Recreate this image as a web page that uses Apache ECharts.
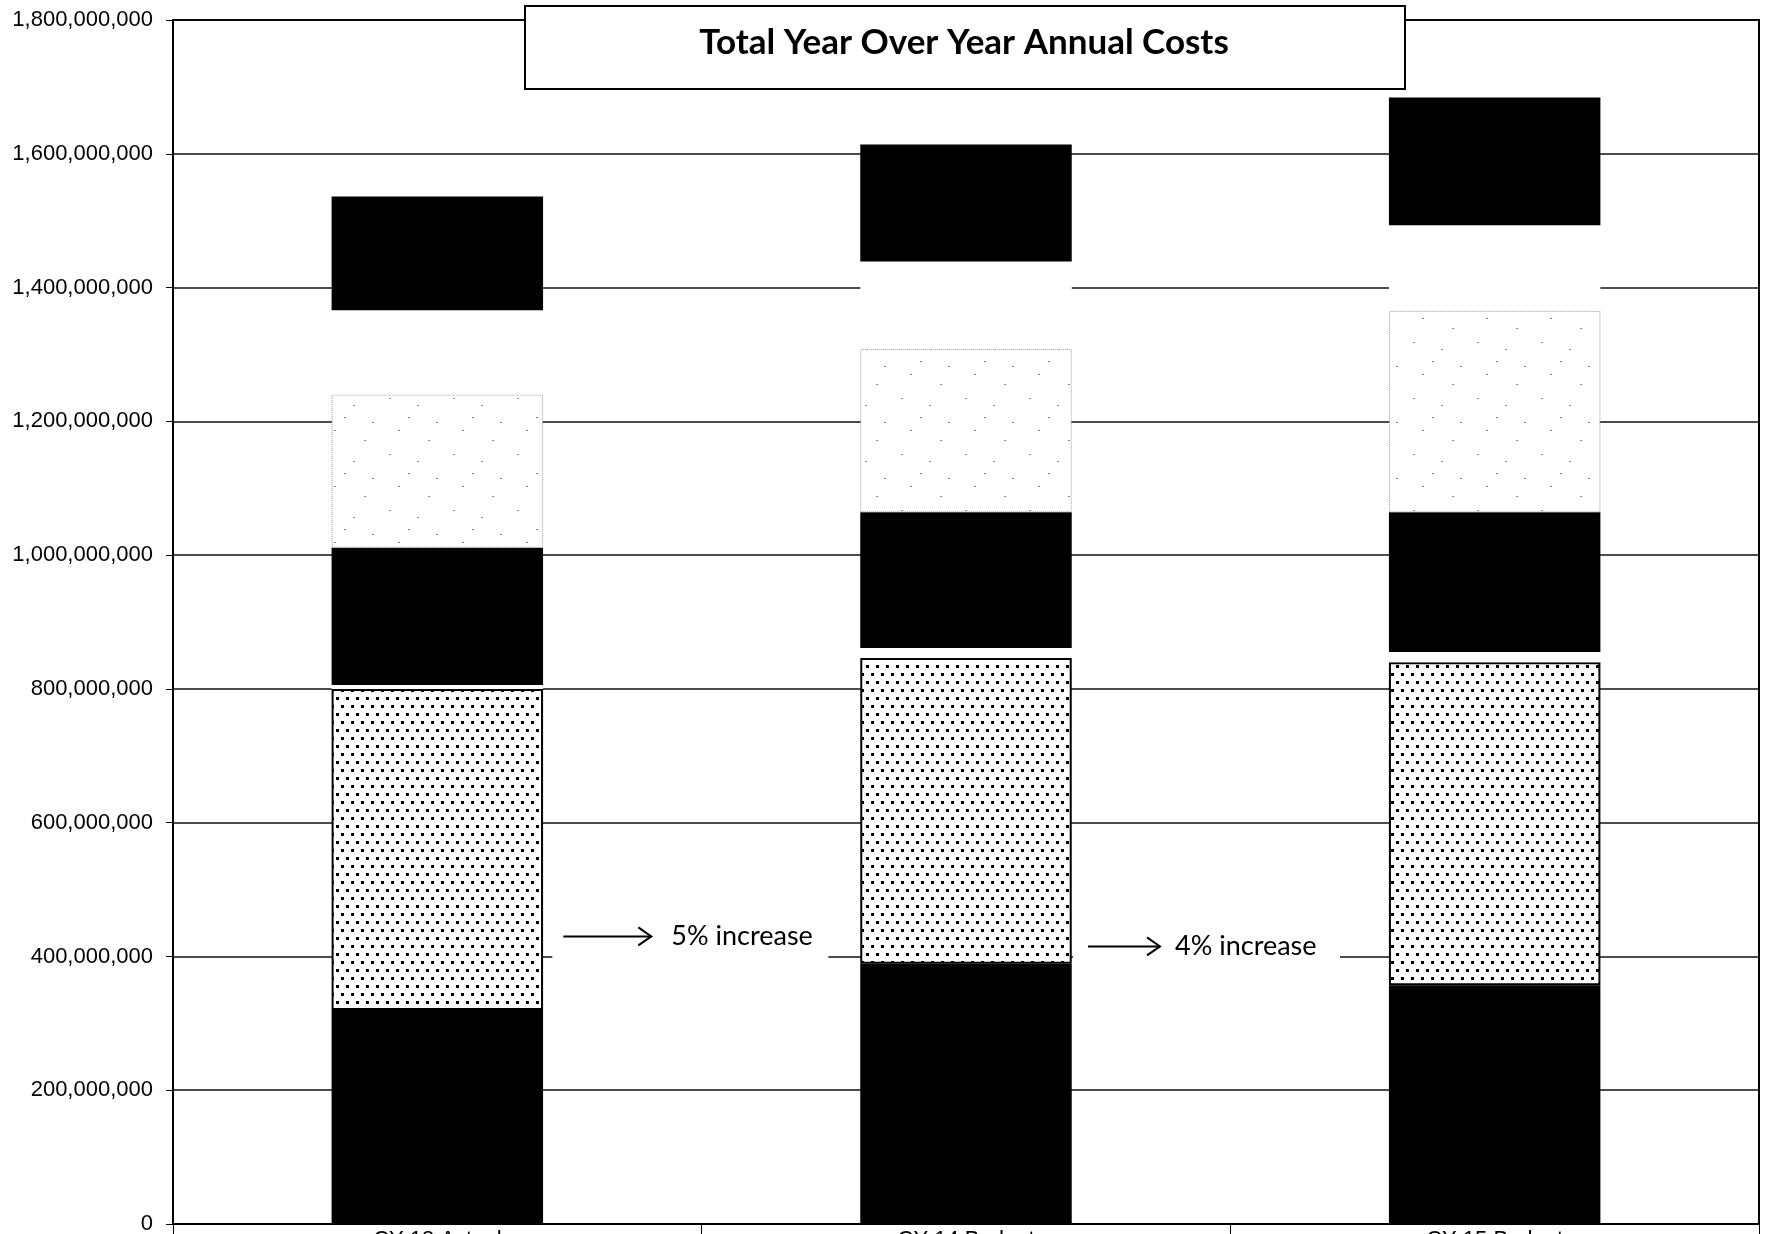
<!DOCTYPE html>
<html><head><meta charset="utf-8">
<script src="https://cdn.jsdelivr.net/npm/echarts@6/dist/echarts.min.js"></script>
<style>html,body{margin:0;padding:0;background:#fff}#c{width:1766px;height:1234px}</style>
</head><body><div id="c"></div>
<script>
// ---- data ----
const categories = ['CY 13 Actual', 'CY 14 Budget', 'CY 15 Budget'];
const baseCost   = [320e6, 389e6, 357e6];   // solid black bottom
const dottedCost = [480e6, 457e6, 483e6];   // dotted segment
const thinGap    = [6e6, 15e6, 15e6];       // thin white gap
const midCost    = [205e6, 203e6, 209e6];   // black middle segment
const lightCost  = [229e6, 244e6, 301e6];   // light speckled segment
const whiteGap   = [126e6, 131e6, 128e6];   // white segment
const topCost    = [170e6, 175e6, 191e6];   // black top segment
const yMin = 0, yMax = 1800e6, yStep = 200e6;
const titleText = 'Total Year Over Year Annual Costs';
const annotations = [
  { cat: 0, value: 430e6, text: '5% increase' },
  { cat: 1, value: 415e6, text: '4% increase' }
];

// ---- patterns ----
function dotPattern() {
  const c = document.createElement('canvas'); c.width = 20; c.height = 16;
  const g = c.getContext('2d');
  g.fillStyle = '#fff'; g.fillRect(0, 0, 20, 16);
  g.fillStyle = '#000';
  [[1,1],[11,1],[6,9],[16,9]].forEach(p => g.fillRect(p[0], p[1], 3, 3));
  return c;
}
function speckPattern() {
  const c = document.createElement('canvas'); c.width = 64; c.height = 56;
  const g = c.getContext('2d');
  g.fillStyle = '#fff'; g.fillRect(0, 0, 64, 56);
  g.fillStyle = '#888';
  [[5,6],[33,13],[52,30],[14,38],[44,48],[24,25]].forEach(p => g.fillRect(p[0], p[1], 2, 1));
  return c;
}
const dotFill = { image: dotPattern(), repeat: 'repeat' };
const speckFill = { image: speckPattern(), repeat: 'repeat' };

const chart = echarts.init(document.getElementById('c'), null, { renderer: 'canvas' });
function seg(name, data, itemStyle) {
  return { name, type: 'bar', stack: 'total', barWidth: '40%', data, itemStyle,
           silent: true, emphasis: { disabled: true }, animation: false };
}
const axisFont = { fontFamily: 'Liberation Sans, Arial, sans-serif', fontSize: 22, color: '#000' };

chart.setOption({
  animation: false,
  backgroundColor: '#fff',
  title: {
    text: titleText, left: 959, top: 20, textAlign: 'center', z: 20,
    textStyle: { fontFamily: 'Lato, sans-serif', fontWeight: 'bold', fontSize: 35, color: '#000' }
  },
  grid: { left: 173, right: 7, top: 20, bottom: 10, containLabel: false, outerBoundsMode: 'none',
          show: true, borderColor: '#000', borderWidth: 2, backgroundColor: 'transparent' },
  xAxis: {
    type: 'category', data: categories,
    axisLine: { lineStyle: { color: '#000', width: 2 } },
    axisTick: { show: true, length: 14, lineStyle: { color: '#000', width: 1 } },
    axisLabel: Object.assign({ margin: 5 }, axisFont),
    splitLine: { show: false }
  },
  yAxis: {
    type: 'value', min: yMin, max: yMax, interval: yStep,
    axisLine: { show: true, lineStyle: { color: '#000', width: 2 } },
    axisTick: { show: true, length: 7, lineStyle: { color: '#000', width: 1 } },
    axisLabel: Object.assign({ margin: 20, formatter: v => v.toLocaleString('en-US') }, axisFont),
    splitLine: { show: true, lineStyle: { color: '#111', width: 1.6 } }
  },
  series: [
    seg('Base', baseCost, { color: '#000' }),
    seg('Dotted', dottedCost, { color: dotFill, borderColor: '#000', borderWidth: 2 }),
    seg('Gap A', thinGap, { color: '#fff' }),
    seg('Middle', midCost, { color: '#000' }),
    seg('Light', lightCost, { color: speckFill, borderColor: '#999', borderWidth: 1, borderType: 'dotted' }),
    seg('Gap B', whiteGap, { color: '#fff' }),
    seg('Top', topCost, { color: '#000' })
  ]
});

// ---- annotations & title box ----
const g = [{
  type: 'rect', z: 10,
  shape: { x: 525, y: 6, width: 880, height: 83 },
  style: { fill: '#fff', stroke: '#000', lineWidth: 2 }
}];
const offs = [
  { box: [115, 391], a0: 126, a1: 214, t: 234 },
  { box: [107, 374], a0: 122, a1: 194, t: 209 }
];
annotations.forEach((a, i) => {
  const p = chart.convertToPixel({ xAxisIndex: 0, yAxisIndex: 0 }, [a.cat, a.value]);
  const o = offs[i];
  const cx = p[0], cy = p[1];
  g.push({ type: 'rect', z: 10, shape: { x: cx + o.box[0], y: cy - 38, width: o.box[1] - o.box[0], height: 76 }, style: { fill: '#fff' } });
  g.push({ type: 'line', z: 11, shape: { x1: cx + o.a0, y1: cy, x2: cx + o.a1, y2: cy }, style: { stroke: '#000', lineWidth: 2 } });
  g.push({ type: 'polyline', z: 11, shape: { points: [[cx + o.a1 - 13, cy - 9], [cx + o.a1, cy], [cx + o.a1 - 13, cy + 9]] }, style: { stroke: '#000', lineWidth: 2, fill: null } });
  g.push({ type: 'text', z: 11, x: cx + o.t, y: cy, style: { text: a.text, fill: '#000', font: '27px Lato, sans-serif', textVerticalAlign: 'middle', verticalAlign: 'middle' } });
});
chart.setOption({ graphic: g });
</script></body></html>
